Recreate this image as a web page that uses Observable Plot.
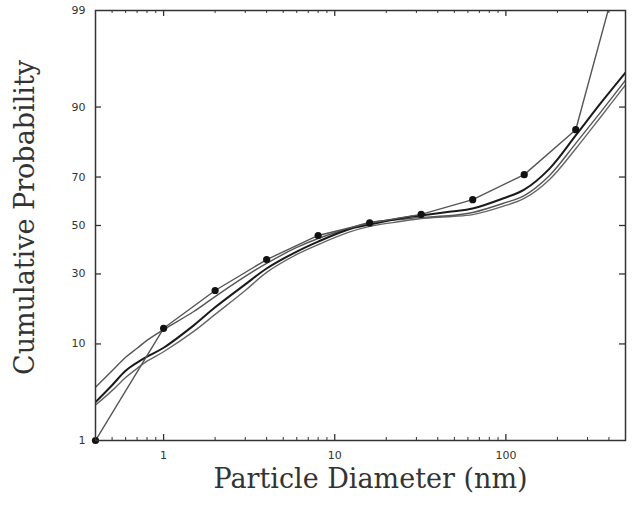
<!DOCTYPE html>
<html>
<head>
<meta charset="utf-8">
<script src="https://cdn.jsdelivr.net/npm/d3@7"></script>
<script src="https://cdn.jsdelivr.net/npm/@observablehq/plot@0.6"></script>
<style>
html,body{margin:0;padding:0;background:#fff;}
</style>
</head>
<body>
<div id="chart"></div>
<script>
// ---- data (particle diameter in nm, cumulative probability in %) ----
const fitSizes = [0.4,0.5,0.6,0.7,0.8,1,1.5,2,3,4,6,8,12,16,24,32,48,64,96,128,180,256,360,500];
const fitA = [4.0,5.8,7.7,9.2,10.7,13.0,17.6,22.1,29.1,34.1,40.6,44.4,48.7,51.3,52.6,53.5,54.3,55.6,59.4,62.7,70.6,81.3,89.1,94.2];
const fitB = [2.8,4.2,5.8,6.9,7.8,9.3,14.0,18.8,26.2,32.1,38.9,43.1,48.3,50.4,53.0,54.3,56.0,57.3,61.5,65.1,73.1,83.5,90.8,95.1];
const fitC = [2.6,3.7,5.0,6.1,7.1,8.6,12.6,16.8,24.1,30.6,37.7,41.8,47.0,49.6,51.7,53.0,53.9,54.7,58.2,61.5,69.1,79.7,88.1,93.6];
const measuredSizes = [0.4,1,2,4,8,16,32,64,128,256,512];
const measuredProb = [1.0,13.3,24.1,35.6,45.7,51.1,54.8,61.0,70.9,85.0,99.9];

const xTickLabels = [1,10,100];
const xMinorTicks = [0.5,0.6,0.7,0.8,0.9,2,3,4,5,6,7,8,9,20,30,40,50,60,70,80,90,200,300,400];
const yTickLabels = [1,10,30,50,70,90,99];
const yInnerTicks = [10,30,50,70,90];

// inverse standard normal CDF (probability scale)
function probit(p){
  const a=[-3.969683028665376e+01,2.209460984245205e+02,-2.759285104469687e+02,1.383577518672690e+02,-3.066479806614716e+01,2.506628277459239e+00];
  const b=[-5.447609879822406e+01,1.615858368580409e+02,-1.556989798598866e+02,6.680131188771972e+01,-1.328068155288572e+01];
  const c=[-7.784894002430293e-03,-3.223964580411365e-01,-2.400758277161838e+00,-2.549732539343734e+00,4.374664141464968e+00,2.938163982698783e+00];
  const d=[7.784695709041462e-03,3.224671290700398e-01,2.445134137142996e+00,3.754408661907416e+00];
  const plow=0.02425, phigh=1-plow;
  let q,r;
  if(p<plow){q=Math.sqrt(-2*Math.log(p));return (((((c[0]*q+c[1])*q+c[2])*q+c[3])*q+c[4])*q+c[5])/((((d[0]*q+d[1])*q+d[2])*q+d[3])*q+1);}
  if(p<=phigh){q=p-0.5;r=q*q;return (((((a[0]*r+a[1])*r+a[2])*r+a[3])*r+a[4])*r+a[5])*q/(((((b[0]*r+b[1])*r+b[2])*r+b[3])*r+b[4])*r+1);}
  q=Math.sqrt(-2*Math.log(1-p));return -(((((c[0]*q+c[1])*q+c[2])*q+c[3])*q+c[4])*q+c[5])/((((d[0]*q+d[1])*q+d[2])*q+d[3])*q+1);
}
const z = pct => probit(pct/100);

const W = 632, H = 506, mL = 95, mR = 7, mT = 10, mB = 66;
const fw = W - mL - mR, fh = H - mT - mB;

const toRows = (sizes, probs) => sizes.map((s,i) => ({x: s, y: z(probs[i])}));
const rowsA = toRows(fitSizes, fitA);
const rowsB = toRows(fitSizes, fitB);
const rowsC = toRows(fitSizes, fitC);
const rowsM = toRows(measuredSizes, measuredProb);

const yLabelMap = new Map(yTickLabels.map(v => [z(v), String(v)]));
const serif = "'DejaVu Serif', serif";

const chart = Plot.plot({
  width: W, height: H,
  marginLeft: mL, marginRight: mR, marginTop: mT, marginBottom: mB,
  style: {background: "#fff", color: "#333"},
  x: {type: "log", domain: [0.4, 500]},
  y: {type: "linear", domain: [z(1), z(99)]},
  marks: [
    Plot.axisX(xTickLabels, {tickSize: 0, tickPadding: 11, fontSize: 11, fontFamily: "'DejaVu Sans', sans-serif", tickFormat: d => String(d), label: null, fill: "#333"}),
    Plot.axisY(yTickLabels.map(z), {tickSize: 0, tickPadding: 10, fontSize: 11, fontFamily: "'DejaVu Sans', sans-serif", tickFormat: v => yLabelMap.get(v), label: null, fill: "#333"}),
    // inward ticks
    Plot.ruleX(xTickLabels, {x: d => d, insetTop: fh - 6, stroke: "#333", strokeWidth: 1.3}),
    Plot.ruleX(xTickLabels, {x: d => d, insetBottom: fh - 6, stroke: "#333", strokeWidth: 1.3}),
    Plot.ruleX(xMinorTicks, {x: d => d, insetTop: fh - 3, stroke: "#333", strokeWidth: 1}),
    Plot.ruleX(xMinorTicks, {x: d => d, insetBottom: fh - 3, stroke: "#333", strokeWidth: 1}),
    Plot.ruleY(yInnerTicks.map(z), {y: d => d, insetRight: fw - 6, stroke: "#333", strokeWidth: 1.3}),
    Plot.ruleY(yInnerTicks.map(z), {y: d => d, insetLeft: fw - 6, stroke: "#333", strokeWidth: 1.3}),
    // fitted curves
    Plot.line(rowsC, {x: "x", y: "y", curve: "catmull-rom", stroke: "#666", strokeWidth: 1.4, clip: true}),
    Plot.line(rowsA, {x: "x", y: "y", curve: "catmull-rom", stroke: "#555", strokeWidth: 1.4, clip: true}),
    Plot.line(rowsB, {x: "x", y: "y", curve: "catmull-rom", stroke: "#1a1a1a", strokeWidth: 2, clip: true}),
    // measured data
    Plot.line(rowsM, {x: "x", y: "y", stroke: "#555", strokeWidth: 1.4, clip: true}),
    Plot.dot(rowsM.filter(d => d.x <= 500), {x: "x", y: "y", r: 3.6, fill: "#111", stroke: "none"}),
    Plot.frame({stroke: "#333", strokeWidth: 1.5}),
    // titles
    Plot.text(["Particle Diameter (nm)"], {frameAnchor: "bottom", dx: 10, dy: 47, fontSize: 27, fontFamily: serif, fill: "#333", textAnchor: "middle", lineAnchor: "bottom", letterSpacing: 1}),
    Plot.text(["Cumulative Probability"], {frameAnchor: "left", dx: -62, dy: -8, rotate: -90, fontSize: 27, fontFamily: serif, fill: "#333", textAnchor: "middle", lineAnchor: "bottom", letterSpacing: 0.7})
  ]
});
document.getElementById("chart").appendChild(chart);
</script>
</body>
</html>
